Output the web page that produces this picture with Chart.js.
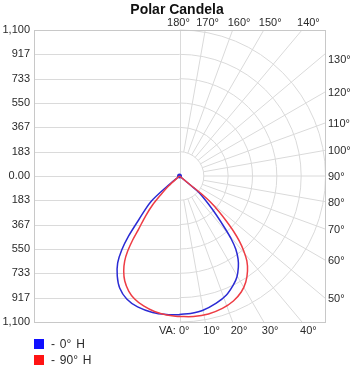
<!DOCTYPE html>
<html>
<head>
<meta charset="utf-8">
<script src="https://cdn.jsdelivr.net/npm/chart.js@4/dist/chart.umd.min.js"></script>
<style>
  html, body { margin: 0; padding: 0; background: #fff; }
  #wrap { width: 354px; height: 368px; position: relative; }
</style>
</head>
<body>
<div id="wrap"><canvas id="chart"></canvas></div>
<script>
// vertical angle (deg, 0 = straight down) and candela for each half of each curve
const h0RightVa = [52, 50.2, 49.8, 46.0, 43.5, 41.0, 39.5, 37.7, 35.3, 33.0, 29.7, 26.4, 21.6, 16.2, 9.7, 4.6, 0];
const h0RightCd = [0, 118, 190, 304, 405, 529, 615, 695, 766, 817, 876, 916, 964, 997, 1028, 1039, 1043];
const h0LeftVa = [0, 5.4, 11.2, 17.8, 23.3, 28.2, 32.0, 35.5, 38.1, 40.4, 43.0, 48.1, 50.2, 52];
const h0LeftCd = [1046, 1048, 1048, 1036, 1009, 957, 888, 805, 708, 593, 453, 293, 118, 0];

const h90RightVa = [53, 50.7, 51.0, 50.0, 48.0, 46.2, 44.5, 42.7, 40.7, 38.5, 35.7, 32.1, 28.1, 23.4, 18.0, 11.9, 5.7, 0];
const h90RightCd = [0, 107, 204, 305, 405, 490, 581, 666, 745, 818, 881, 943, 991, 1026, 1049, 1062, 1064, 1059];
const h90LeftVa = [0, 5.3, 10.5, 15.5, 20.1, 23.9, 27.6, 30.5, 32.9, 34.7, 36.3, 37.7, 40.4, 43.0, 45.0, 47.7, 50];
const h90LeftCd = [1059, 1052, 1038, 1016, 987, 948, 893, 831, 763, 688, 598, 505, 396, 299, 202, 112, 0];

const seriesLabels = ["- 0° H", "- 90° H"];
const seriesColors = ["#2b2bd4", "#ee3c44"];
const legendColors = ["#1010ff", "#ff1414"];

const yTicks = [-1100, -916.67, -733.33, -550, -366.67, -183.33, 0, 183.33, 366.67, 550, 733.33, 916.67, 1100];
const ringValues = [183.33, 366.67, 550, 733.33, 916.67, 1100];
const radialAngles = [10, 20, 30, 40, 50, 60, 70, 80, 90, 100, 110, 120, 130, 140, 150, 160, 170];
const topAngles = [180, 170, 160, 150, 140];
const rightAngles = [130, 120, 110, 100, 90, 80, 70, 60, 50];
const bottomAngles = [0, 10, 20, 30, 40];

const FONT = "'Liberation Sans', Arial, sans-serif";
const GRID = "#dadada";
const TEXT = "#2a2a2a";

// polar (VA from straight down) -> x/y values on the scatter scales
function toPoints(rightVa, rightCd, leftVa, leftCd) {
  const rad = (d) => (d * Math.PI) / 180;
  const right = rightVa.map((va, i) => ({ x: rightCd[i] * Math.sin(rad(va)), y: -rightCd[i] * Math.cos(rad(va)) }));
  const left = leftVa.map((va, i) => ({ x: -leftCd[i] * Math.sin(rad(va)), y: -leftCd[i] * Math.cos(rad(va)) }));
  return right.concat(left);
}

function formatTick(value) {
  const v = Math.abs(value);
  if (v < 0.01) return "0.00";
  return Math.round(v).toLocaleString("en-US");
}

const polarGrid = {
  id: "polarGrid",
  beforeDatasetsDraw(chart) {
    const { ctx, chartArea: area, scales } = chart;
    const cx = scales.x.getPixelForValue(0);
    const cy = scales.y.getPixelForValue(0);
    ctx.save();
    ctx.strokeStyle = GRID;
    ctx.lineWidth = 1;

    // horizontal lines, left half only
    yTicks.forEach((v) => {
      const y = Math.round(scales.y.getPixelForValue(v)) + 0.5;
      ctx.beginPath();
      ctx.moveTo(area.left, y);
      ctx.lineTo(cx, y);
      ctx.stroke();
    });

    // rings, right half
    ringValues.forEach((v) => {
      const r = cy - scales.y.getPixelForValue(v);
      ctx.beginPath();
      ctx.arc(cx, cy, r, -Math.PI / 2, Math.PI / 2);
      ctx.stroke();
    });

    // radial lines from the first ring out to the frame
    const inner = cy - scales.y.getPixelForValue(ringValues[0]);
    radialAngles.forEach((deg) => {
      const a = (deg * Math.PI) / 180;
      const dx = Math.sin(a);
      const dy = Math.cos(a);
      let t = (area.right - cx) / dx;
      if (dy > 1e-6) t = Math.min(t, (area.bottom - cy) / dy);
      if (dy < -1e-6) t = Math.min(t, (area.top - cy) / dy);
      ctx.beginPath();
      ctx.moveTo(cx + inner * dx, cy + inner * dy);
      ctx.lineTo(cx + t * dx, cy + t * dy);
      ctx.stroke();
    });

    ctx.beginPath();
    ctx.moveTo(Math.round(cx) + 0.5, area.top);
    ctx.lineTo(Math.round(cx) + 0.5, area.bottom);
    ctx.stroke();
    ctx.strokeStyle = "#c8c8c8";
    ctx.strokeRect(Math.round(area.left) + 0.5, Math.round(area.top) + 0.5, Math.round(area.width), Math.round(area.height));

    // angle labels round the frame
    ctx.fillStyle = TEXT;
    ctx.font = `11px ${FONT}`;
    ctx.textBaseline = "middle";
    const half = area.bottom - cy;

    topAngles.forEach((deg) => {
      const ix = cx + half * Math.tan(((180 - deg) * Math.PI) / 180);
      if (deg === 180) {
        ctx.textAlign = "center";
        ctx.fillText(`${deg}°`, ix - 1, area.top - 7);
      } else {
        ctx.textAlign = "left";
        ctx.fillText(`${deg}°`, ix - (deg === 170 ? 9 : 5), area.top - 7);
      }
    });

    ctx.textAlign = "left";
    rightAngles.forEach((deg) => {
      const a = (deg * Math.PI) / 180;
      const iy = cy + (area.right - cx) * Math.cos(a) / Math.sin(a);
      const y = Math.max(iy, area.top + 29);
      ctx.fillText(`${deg}°`, area.right + 3, y + 1);
    });

    bottomAngles.forEach((deg) => {
      const ix = cx + half * Math.tan((deg * Math.PI) / 180);
      if (deg === 0) {
        ctx.textAlign = "right";
        ctx.fillText("VA: 0°", ix + 10, area.bottom + 9);
      } else {
        ctx.textAlign = "left";
        ctx.fillText(`${deg}°`, ix - 2, area.bottom + 9);
      }
    });
    ctx.restore();
  },
  afterDraw(chart) {
    const { ctx, chartArea: area } = chart;
    ctx.save();
    ctx.font = `12px ${FONT}`;
    ctx.wordSpacing = "1.5px";
    ctx.textBaseline = "middle";
    ctx.textAlign = "left";
    seriesLabels.forEach((label, i) => {
      const y = area.bottom + 17 + i * 16;
      ctx.fillStyle = legendColors[i];
      ctx.fillRect(area.left, y, 10, 10);
      ctx.fillStyle = TEXT;
      ctx.fillText(label, area.left + 17, y + 5.5);
    });
    ctx.restore();
  },
};

new Chart(document.querySelector("#chart"), {
  type: "scatter",
  data: {
    datasets: [
      {
        label: seriesLabels[1],
        data: toPoints(h90RightVa, h90RightCd, h90LeftVa, h90LeftCd),
        showLine: true,
        borderColor: seriesColors[1],
        borderWidth: 1.5,
        pointRadius: 0,
        tension: 0.3,
      },
      {
        label: seriesLabels[0],
        data: toPoints(h0RightVa, h0RightCd, h0LeftVa, h0LeftCd),
        showLine: true,
        borderColor: seriesColors[0],
        borderWidth: 1.5,
        pointRadius: (c) => (c.dataIndex === 0 ? 2.5 : 0),
        pointBackgroundColor: seriesColors[0],
        pointBorderWidth: 0,
        tension: 0.3,
      },
    ],
  },
  options: {
    responsive: true,
    maintainAspectRatio: false,
    animation: false,
    layout: { padding: { left: 0, right: 0, bottom: 46, top: 0 } },
    scales: {
      x: { type: "linear", min: -1100, max: 1100, display: false },
      y: {
        type: "linear",
        min: -1100,
        max: 1100,
        grid: { display: false, drawTicks: false },
        border: { display: false },
        afterBuildTicks: (scale) => {
          scale.ticks = yTicks.map((v) => ({ value: v }));
        },
        afterFit: (scale) => {
          scale.width = 34;
        },
        ticks: {
          autoSkip: false,
          padding: 4,
          color: TEXT,
          font: { family: FONT, size: 11 },
          callback: (value) => formatTick(value),
        },
      },
      // empty right axis: keeps room for the angle labels
      yRight: {
        type: "linear",
        position: "right",
        min: -1100,
        max: 1100,
        grid: { display: false, drawTicks: false },
        border: { display: false },
        ticks: { display: false },
        afterFit: (scale) => {
          scale.width = 29;
        },
      },
    },
    plugins: {
      legend: { display: false },
      tooltip: { enabled: false },
      title: {
        display: true,
        text: "Polar Candela",
        color: "#111",
        font: { family: FONT, size: 14, weight: "bold", lineHeight: 1.2 },
        padding: { top: 2, bottom: 11.2 },
      },
    },
  },
  plugins: [polarGrid],
});
</script>
</body>
</html>
